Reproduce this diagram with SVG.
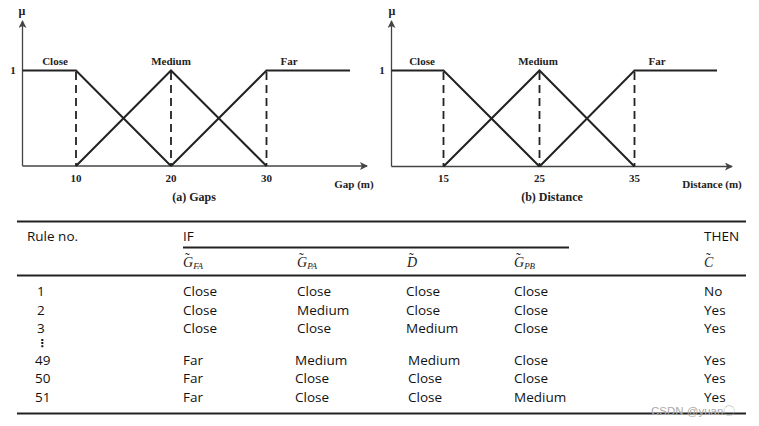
<svg xmlns="http://www.w3.org/2000/svg" width="759" height="426" viewBox="0 0 759 426">
<style>
.ax{stroke:#444;stroke-width:1.3;fill:none}
.mf{stroke:#222;stroke-width:2;fill:none}
.dash{stroke:#222;stroke-width:1.8;stroke-dasharray:8,5;fill:none}
.lb{font-family:"Liberation Serif",serif;font-weight:bold;font-size:11px;fill:#222}
.cap{font-family:"Liberation Serif",serif;font-weight:bold;font-size:12px;fill:#222}
.t{font-family:"Open Sans","Noto Sans",sans-serif;font-size:13.5px;fill:#111}
.m{font-family:"Liberation Serif",serif;font-style:italic;font-size:14px;fill:#222}
.tl{font-family:"Liberation Serif",serif;font-size:14px;fill:#222}
.sub{font-size:9px}
.rule{stroke:#222;stroke-width:2}
</style>
<defs>
<marker id="arr" markerWidth="8" markerHeight="8" refX="7" refY="4" orient="auto" markerUnits="userSpaceOnUse">
<path d="M0,0 L8,4 L0,8 L2,4 Z" fill="#444"/>
</marker>
</defs>

<g id="chart-gaps">
<line class="ax" x1="22.5" y1="166" x2="22.5" y2="21" marker-end="url(#arr)"/>
<line class="ax" x1="22.5" y1="166" x2="367" y2="166" marker-end="url(#arr)"/>
<text class="cap" x="22" y="15" text-anchor="middle">μ</text>
<text class="lb" x="13" y="74" text-anchor="middle">1</text>
<polyline class="mf" points="22.5,70.5 76,70.5 171,166"/>
<polyline class="mf" points="76,166 171,70.5 266.5,166"/>
<polyline class="mf" points="171,166 266.5,70.5 350,70.5"/>
<line class="dash" x1="76" y1="72" x2="76" y2="166"/>
<line class="dash" x1="171" y1="72" x2="171" y2="166"/>
<line class="dash" x1="266.5" y1="72" x2="266.5" y2="166"/>
<text class="lb" x="55" y="65" text-anchor="middle">Close</text>
<text class="lb" x="171" y="65" text-anchor="middle">Medium</text>
<text class="lb" x="289" y="65" text-anchor="middle">Far</text>
<text class="lb" x="76" y="182" text-anchor="middle">10</text>
<text class="lb" x="171" y="182" text-anchor="middle">20</text>
<text class="lb" x="266.5" y="182" text-anchor="middle">30</text>
<text class="lb" x="354" y="188" text-anchor="middle">Gap (m)</text>
<text class="cap" x="194" y="201" text-anchor="middle">(a) Gaps</text>
</g>

<g id="chart-distance">
<line class="ax" x1="391.5" y1="166.5" x2="391.5" y2="21" marker-end="url(#arr)"/>
<line class="ax" x1="391.5" y1="166.5" x2="732" y2="166.5" marker-end="url(#arr)"/>
<text class="cap" x="392" y="15" text-anchor="middle">μ</text>
<text class="lb" x="382" y="74" text-anchor="middle">1</text>
<polyline class="mf" points="391.5,70.5 443.5,70.5 539.5,166.5"/>
<polyline class="mf" points="443.5,166.5 539.5,70.5 634.5,166.5"/>
<polyline class="mf" points="539.5,166.5 634.5,70.5 717,70.5"/>
<line class="dash" x1="443.5" y1="72" x2="443.5" y2="166.5"/>
<line class="dash" x1="539.5" y1="72" x2="539.5" y2="166.5"/>
<line class="dash" x1="634.5" y1="72" x2="634.5" y2="166.5"/>
<text class="lb" x="422" y="65" text-anchor="middle">Close</text>
<text class="lb" x="538" y="65" text-anchor="middle">Medium</text>
<text class="lb" x="657" y="65" text-anchor="middle">Far</text>
<text class="lb" x="443.5" y="182" text-anchor="middle">15</text>
<text class="lb" x="539.5" y="182" text-anchor="middle">25</text>
<text class="lb" x="634.5" y="182" text-anchor="middle">35</text>
<text class="lb" x="712" y="188" text-anchor="middle">Distance (m)</text>
<text class="cap" x="552" y="201" text-anchor="middle">(b) Distance</text>
</g>

<g id="rule-table">
<line class="rule" x1="17" y1="221.5" x2="746" y2="221.5"/>
<line class="rule" x1="183" y1="247.5" x2="569" y2="247.5" stroke-width="1.6"/>
<line class="rule" x1="17" y1="275.5" x2="746" y2="275.5"/>
<line class="rule" x1="17" y1="413.5" x2="746" y2="413.5"/>
<text class="t" x="27" y="241">Rule no.</text>
<text class="t" x="183" y="241">IF</text>
<text class="t" x="704" y="241">THEN</text>
<g id="headers">
<text class="m" x="183" y="267">G<tspan class="sub" dy="2">FA</tspan></text>
<text class="tl" x="185" y="262.5">˜</text>
<text class="m" x="297" y="267">G<tspan class="sub" dy="2">PA</tspan></text>
<text class="tl" x="299" y="262.5">˜</text>
<text class="m" x="407" y="267">D</text>
<text class="tl" x="409" y="262.5">˜</text>
<text class="m" x="514" y="267">G<tspan class="sub" dy="2">PB</tspan></text>
<text class="tl" x="516" y="262.5">˜</text>
<text class="m" x="704" y="267">C</text>
<text class="tl" x="706" y="262.5">˜</text>
</g>

<g id="row-1">
<text class="t" x="37" y="296">1</text>
<text class="t" x="183" y="296">Close</text>
<text class="t" x="297" y="296">Close</text>
<text class="t" x="406" y="296">Close</text>
<text class="t" x="514" y="296">Close</text>
<text class="t" x="704" y="296">No</text>
</g>
<g id="row-2">
<text class="t" x="37" y="314.5">2</text>
<text class="t" x="183" y="314.5">Close</text>
<text class="t" x="297" y="314.5">Medium</text>
<text class="t" x="406" y="314.5">Close</text>
<text class="t" x="514" y="314.5">Close</text>
<text class="t" x="704" y="314.5">Yes</text>
</g>
<g id="row-3">
<text class="t" x="37" y="333">3</text>
<text class="t" x="183" y="333">Close</text>
<text class="t" x="297" y="333">Close</text>
<text class="t" x="406" y="333">Medium</text>
<text class="t" x="514" y="333">Close</text>
<text class="t" x="704" y="333">Yes</text>
</g>
<text x="36.5" y="347" font-family="DejaVu Sans,sans-serif" font-weight="bold" font-size="11" fill="#111">⋮</text>
<g id="row-49">
<text class="t" x="35" y="364.5">49</text>
<text class="t" x="183" y="364.5">Far</text>
<text class="t" x="295" y="364.5">Medium</text>
<text class="t" x="408" y="364.5">Medium</text>
<text class="t" x="514" y="364.5">Close</text>
<text class="t" x="704" y="364.5">Yes</text>
</g>
<g id="row-50">
<text class="t" x="35" y="383">50</text>
<text class="t" x="183" y="383">Far</text>
<text class="t" x="295" y="383">Close</text>
<text class="t" x="408" y="383">Close</text>
<text class="t" x="514" y="383">Close</text>
<text class="t" x="704" y="383">Yes</text>
</g>
<g id="row-51">
<text class="t" x="35" y="401.5">51</text>
<text class="t" x="183" y="401.5">Far</text>
<text class="t" x="295" y="401.5">Close</text>
<text class="t" x="408" y="401.5">Close</text>
<text class="t" x="514" y="401.5">Medium</text>
<text class="t" x="704" y="401.5">Yes</text>
</g>
</g>

<text x="651" y="415" font-family="Liberation Sans,sans-serif" font-size="11.5" fill="#aaa">CSDN @yuan〇</text>
</svg>
